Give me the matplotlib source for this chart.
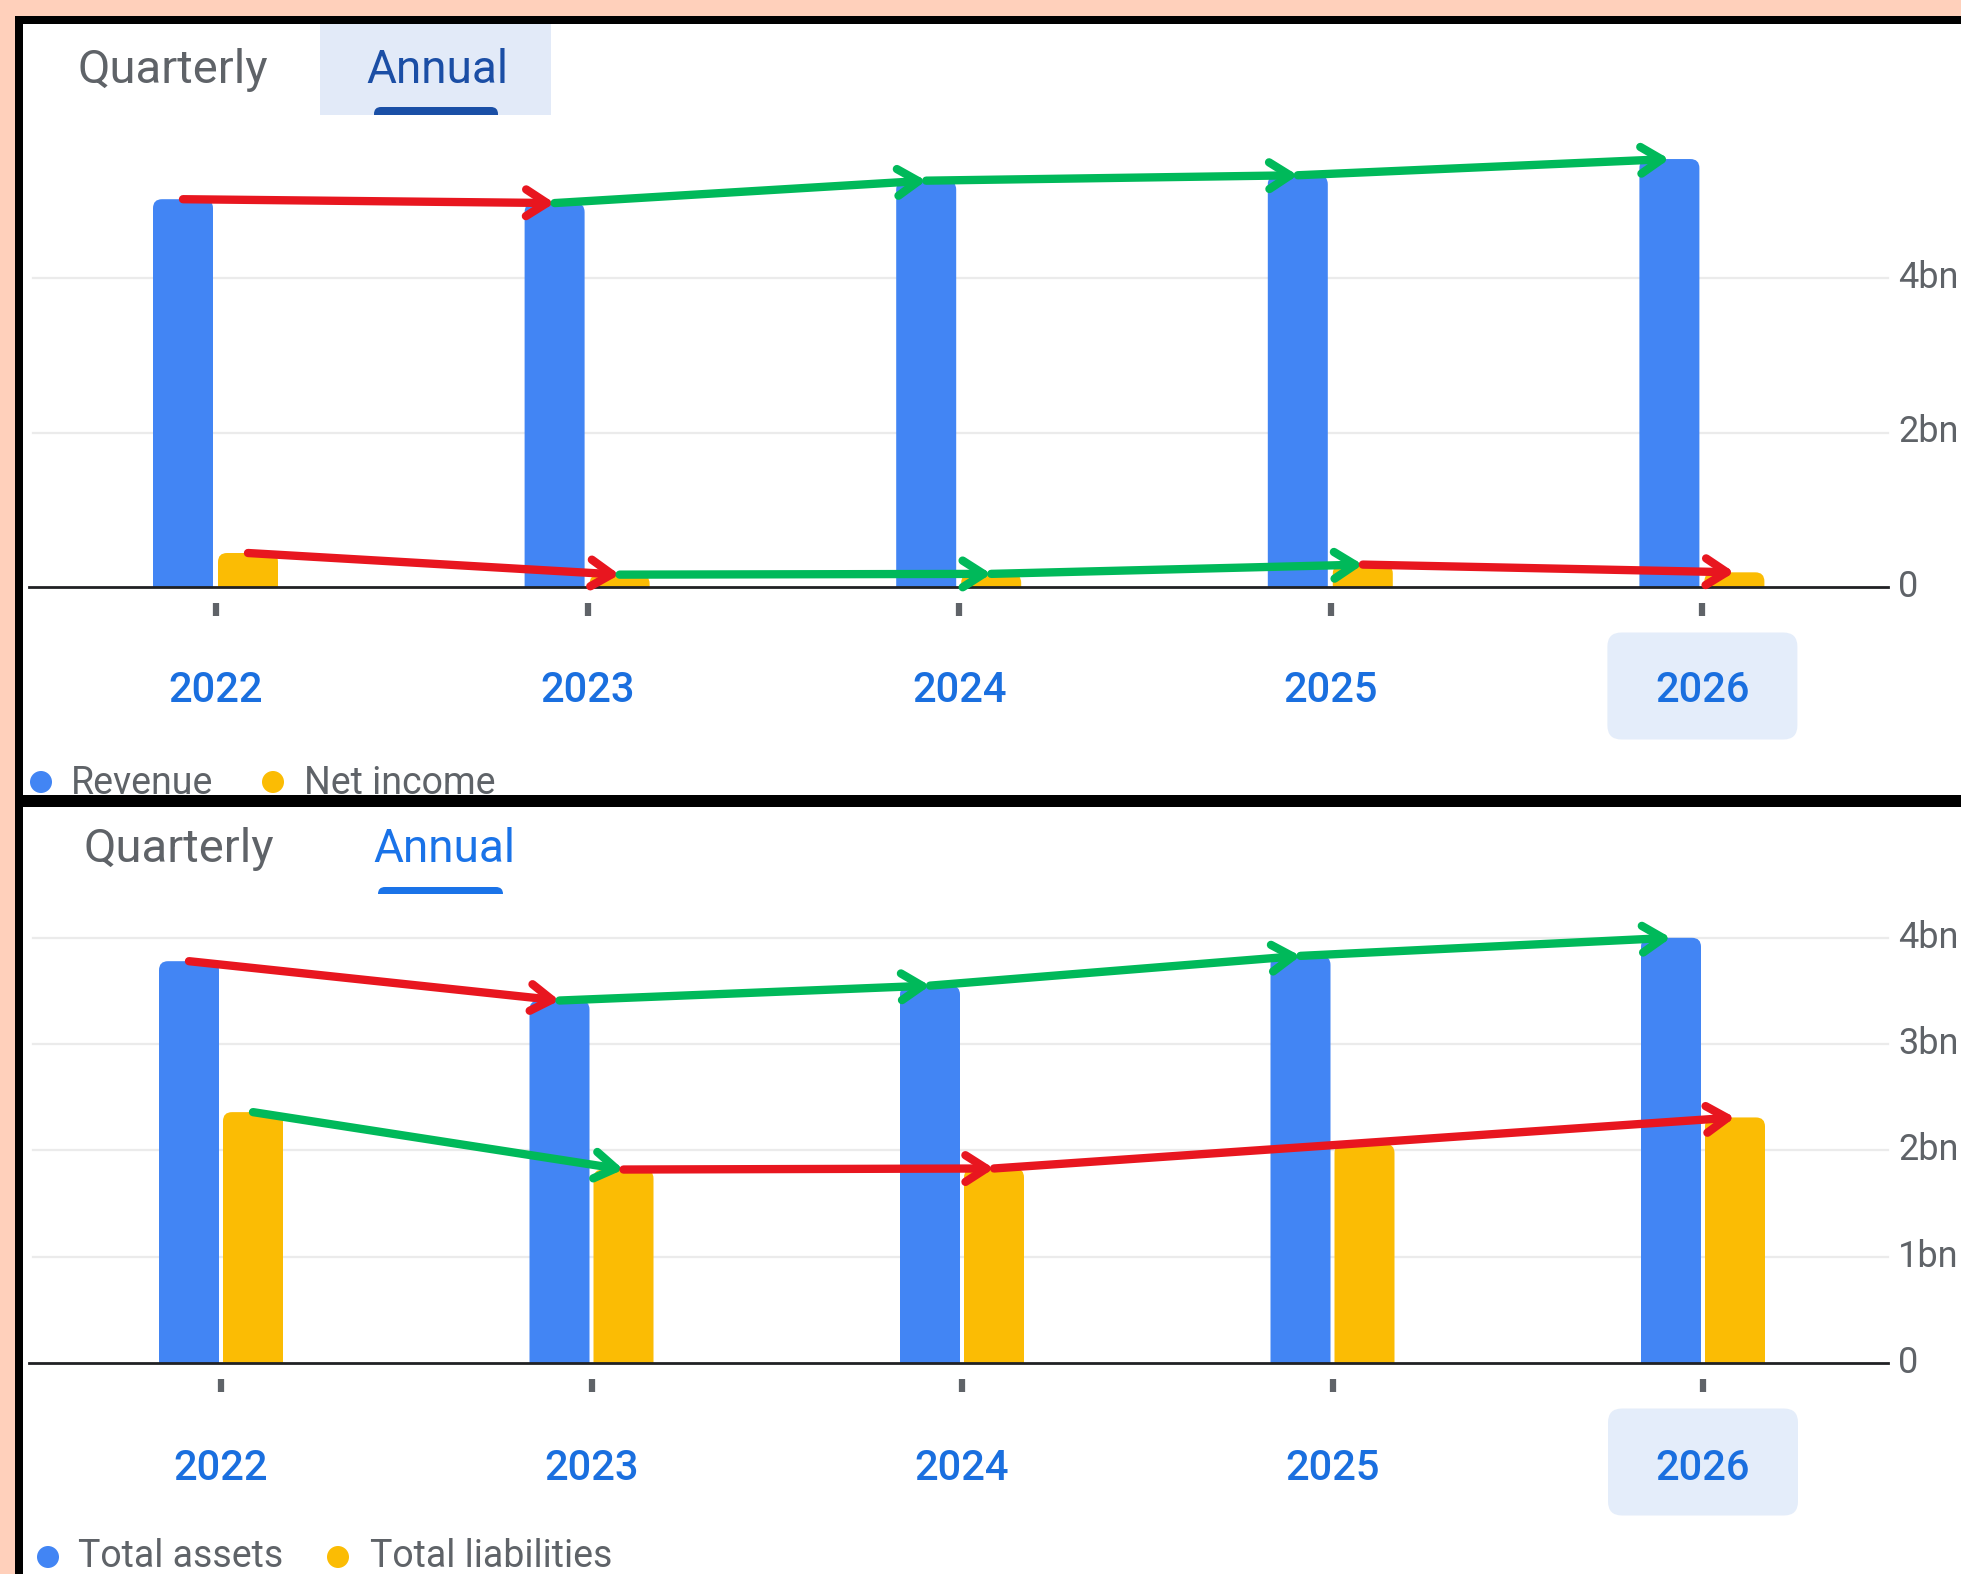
import matplotlib
matplotlib.use("Agg")
import matplotlib.pyplot as plt
from matplotlib.patches import FancyBboxPatch, Rectangle, Circle
from matplotlib.transforms import blended_transform_factory

# ---- data (values in billions) ----
years = ["2022", "2023", "2024", "2025", "2026"]
revenue = [5.02, 4.97, 5.26, 5.33, 5.54]
net_income = [0.44, 0.16, 0.17, 0.29, 0.19]
total_assets = [3.78, 3.41, 3.55, 3.83, 4.00]
total_liabilities = [2.36, 1.82, 1.83, 2.06, 2.31]

top_ticks = [0, 2, 4]
top_tick_labels = ["0", "2bn", "4bn"]
bottom_ticks = [0, 1, 2, 3, 4]
bottom_tick_labels = ["0", "1bn", "2bn", "3bn", "4bn"]

# which year pairs got an arrow drawn on them
revenue_pairs = [(0, 1), (1, 2), (2, 3), (3, 4)]
income_pairs = [(0, 1), (1, 2), (2, 3), (3, 4)]
assets_pairs = [(0, 1), (1, 2), (2, 3), (3, 4)]
liabilities_pairs = [(0, 1), (1, 2), (2, 4)]

BLUE = "#4285f4"
YELLOW = "#fbbc04"
GREY = "#5f6368"
LINK = "#1a6fdf"
RED = "#e8161f"
GREEN = "#00b95a"
FONT = ["Roboto", "DejaVu Sans"]

W, H = 1961, 1574
fig = plt.figure(figsize=(W / 100, H / 100), dpi=100)
fig.patch.set_facecolor("#ffd0bb")

# black frame behind the two screenshots
fig.add_artist(Rectangle((15 / W, 0), 1 - 15 / W, 1 - 16 / H,
                         transform=fig.transFigure, fc="black", ec="none", zorder=-5))


def rounded(x, y, w, h, r_px, ppx, ppu, **kw):
    rx = r_px / ppx
    ry = r_px / ppu
    return FancyBboxPatch((x, y), w, h, boxstyle=f"round,pad=0,rounding_size={rx}",
                          mutation_aspect=ry / rx, **kw)


def make_chart(top_px, bottom_px, x0_px, ppx, base_px, ppu):
    ax = fig.add_axes([23 / W, 1 - bottom_px / H, (W - 23) / W, (bottom_px - top_px) / H])
    ax.set_xlim((23 - x0_px) / ppx, (W - x0_px) / ppx)
    ax.set_ylim((base_px - bottom_px) / ppu, (base_px - top_px) / ppu)
    ax.set_facecolor("white")
    ax.set_xticks([])
    ax.set_yticks([])
    for s in ax.spines.values():
        s.set_visible(False)
    ax.ppx = ppx
    ax.ppu = ppu
    return ax


def draw_bars(ax, vals, offset_px, color):
    w = 60 / ax.ppx
    ry = 9 / ax.ppu
    for i, v in enumerate(vals):
        x = i + offset_px / ax.ppx
        p = rounded(x, -2 * ry, w, v + 2 * ry, 9, ax.ppx, ax.ppu, fc=color, ec="none", zorder=2)
        ax.add_patch(p)
        p.set_clip_path(Rectangle((x - 1, 0), w + 2, v + 10, transform=ax.transData))


def draw_arrows(ax, vals, pairs, offset_px, up_is_good):
    dx = offset_px / ax.ppx
    for a, b in pairs:
        good = (vals[b] >= vals[a]) == up_is_good
        ax.annotate("", xy=(b + dx, vals[b]), xytext=(a + dx, vals[a]),
                    arrowprops=dict(arrowstyle="->,head_length=0.5,head_width=0.32",
                                    color=GREEN if good else RED, lw=6,
                                    shrinkA=0, shrinkB=0, mutation_scale=30,
                                    capstyle="round", joinstyle="round"),
                    annotation_clip=False, zorder=6)


def decorate(ax, ticks, labels, label_px):
    span = W - 23
    for t, lab in zip(ticks, labels):
        if t != 0:
            ax.axhline(t, xmin=(33 - 23) / span, xmax=(1888 - 23) / span,
                       color="#ebebeb", lw=1.6, zorder=1)
        ax.text((1898 - 23) / span, t, lab, transform=blended_transform_factory(ax.transAxes, ax.transData),
                ha="left", va="center", fontsize=26, color=GREY, family=FONT)
    ax.axhline(0, xmin=(29 - 23) / span, xmax=(1888 - 23) / span, color="#202124", lw=2, zorder=4)
    xs = range(len(years))
    ax.vlines(xs, -16 / ax.ppu, -29 / ax.ppu, color=GREY, lw=4.5)
    y_box = -99 / ax.ppu
    y_lab = -label_px / ax.ppu
    # selected year highlight
    bw, bh = 190 / ax.ppx, 107 / ax.ppu
    ax.add_patch(rounded(len(years) - 1 - bw / 2, y_box - bh / 2, bw, bh, 14, ax.ppx, ax.ppu,
                         fc="#e4edfa", ec="none", zorder=1))
    for i, y in enumerate(years):
        ax.text(i, y_lab, y, ha="center", va="center", fontsize=30, color=LINK,
                family=FONT, fontweight="medium")


# ---- top chart: revenue / net income ----
ax1 = make_chart(24, 795, 216, 371.6, 587, 77.25)
decorate(ax1, top_ticks, top_tick_labels, 103)
draw_bars(ax1, revenue, -63, BLUE)
draw_bars(ax1, net_income, 2, YELLOW)
draw_arrows(ax1, revenue, revenue_pairs, -33, True)
draw_arrows(ax1, net_income, income_pairs, 32, True)

# ---- bottom chart: assets / liabilities ----
ax2 = make_chart(807, 1574, 221, 370.5, 1363, 106.3)
decorate(ax2, bottom_ticks, bottom_tick_labels, 105)
draw_bars(ax2, total_assets, -62, BLUE)
draw_bars(ax2, total_liabilities, 2, YELLOW)
draw_arrows(ax2, total_assets, assets_pairs, -32, True)
draw_arrows(ax2, total_liabilities, liabilities_pairs, 32, False)

# ---- overlay in pixel units: tabs and legends ----
ov = fig.add_axes([0, 0, 1, 1], zorder=3)
ov.set_xlim(0, W)
ov.set_ylim(H, 0)
ov.axis("off")

# top tabs (Annual selected, tinted)
ov.add_patch(Rectangle((320, 24), 231, 91, fc="#e2eaf8", ec="none"))
ul = FancyBboxPatch((374, 107), 124, 24, boxstyle="round,pad=0,rounding_size=7", fc="#1a4fa6", ec="none")
ov.add_patch(ul)
ul.set_clip_path(Rectangle((320, 24), 231, 91, transform=ov.transData))
ov.text(78, 83, "Quarterly", fontsize=34, color=GREY, va="baseline", family=FONT)
ov.text(366, 83, "Annual", fontsize=33, color="#1b4ea5", va="baseline", family=FONT)

# bottom tabs
ul2 = FancyBboxPatch((378, 887), 125, 20, boxstyle="round,pad=0,rounding_size=7", fc="#1a73e8", ec="none")
ov.add_patch(ul2)
ul2.set_clip_path(Rectangle((370, 880), 140, 14, transform=ov.transData))
ov.text(84, 862, "Quarterly", fontsize=34, color=GREY, va="baseline", family=FONT)
ov.text(373, 862, "Annual", fontsize=33, color="#1a73e8", va="baseline", family=FONT)

# legends
for cx, tx, label, col in [(41, 71, "Revenue", BLUE), (273, 304, "Net income", YELLOW)]:
    ov.add_patch(Circle((cx, 782), 11, fc=col, ec="none"))
    ov.text(tx, 794, label, fontsize=27, color=GREY, va="baseline", family=FONT)
for cx, tx, label, col in [(48, 78, "Total assets", BLUE), (338, 370, "Total liabilities", YELLOW)]:
    ov.add_patch(Circle((cx, 1557), 11, fc=col, ec="none"))
    ov.text(tx, 1567, label, fontsize=27, color=GREY, va="baseline", family=FONT)

fig.savefig("out.png", dpi=100, facecolor=fig.get_facecolor())
